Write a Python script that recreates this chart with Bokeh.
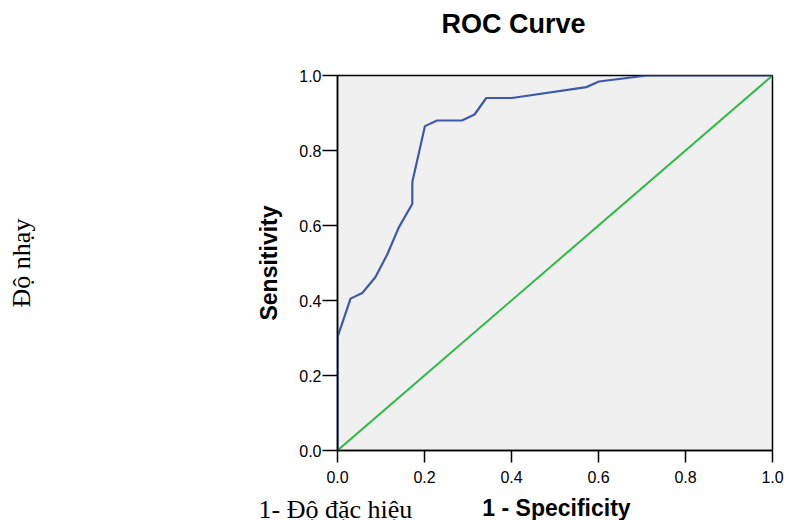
from bokeh.plotting import figure
from bokeh.layouts import column
from bokeh.models import Range1d, FixedTicker, PrintfTickFormatter, Label, LinearAxis
from bokeh.embed import file_html
from bokeh.resources import INLINE

# ROC curve data
fpr = [0.0, 0.0, 0.030, 0.057, 0.087, 0.114, 0.141, 0.172, 0.172, 0.201, 0.229,
       0.286, 0.315, 0.342, 0.401, 0.572, 0.601, 0.712, 1.0]
tpr = [0.0, 0.302, 0.405, 0.420, 0.462, 0.522, 0.595, 0.658, 0.716, 0.865, 0.880,
       0.880, 0.896, 0.940, 0.940, 0.969, 0.984, 1.0, 1.0]
ref_x = [0.0, 1.0]
ref_y = [0.0, 1.0]
ticks = [0.0, 0.2, 0.4, 0.6, 0.8, 1.0]

title_text = "ROC Curve"
xlabel = "1 - Specificity"
ylabel = "Sensitivity"
vn_y = "Độ nhạy"
vn_x = "1- Độ đặc hiệu"

W = 789


def no_align(fig):
    try:
        fig.frame_align = False
    except AttributeError:
        pass


def text_strip(h):
    s = figure(width=W, height=h, output_backend="svg", toolbar_location=None,
               x_range=Range1d(0, W), y_range=Range1d(0, h),
               x_axis_type=None, y_axis_type=None, min_border=0)
    s.outline_line_color = None
    s.xgrid.visible = False
    s.ygrid.visible = False
    s.background_fill_color = "white"
    s.border_fill_color = "white"
    no_align(s)
    return s


# --- title strip ---
top = text_strip(50)
top.add_layout(Label(x=513, y=27, text=title_text, text_align="center",
                     text_baseline="middle", text_font="Liberation Sans",
                     text_font_style="bold", text_font_size="27px",
                     text_color="black"))

# --- main plot ---
p = figure(width=W, height=440, output_backend="svg", toolbar_location=None,
           x_range=Range1d(0, 1), y_range=Range1d(0, 1),
           min_border_left=337, min_border_right=17, min_border_top=25,
           min_border_bottom=40)
no_align(p)

p.background_fill_color = "#f0f0f0"
p.border_fill_color = "white"
p.outline_line_color = "black"
p.outline_line_width = 1.5
p.xgrid.visible = False
p.ygrid.visible = False

for ax in (p.xaxis, p.yaxis):
    ax.ticker = FixedTicker(ticks=ticks)
    ax.formatter = PrintfTickFormatter(format="%.1f")
    ax.axis_line_color = "black"
    ax.axis_line_width = 1.5
    ax.major_tick_line_color = "black"
    ax.major_tick_line_width = 1.5
    ax.major_tick_in = 0
    ax.minor_tick_line_color = None
    ax.major_label_text_font = "Liberation Sans"
    ax.major_label_text_font_size = "16px"
    ax.major_label_text_color = "black"
    ax.axis_label_text_font = "Liberation Sans"
    ax.axis_label_text_font_style = "bold"
    ax.axis_label_text_font_size = "23px"
    ax.axis_label_text_color = "black"

p.xaxis.major_tick_out = 12
p.yaxis.major_tick_out = 15
p.xaxis.major_label_standoff = 8
p.yaxis.major_label_standoff = 1
p.yaxis.axis_label = ylabel
p.yaxis.axis_label_standoff = 14

# Vietnamese y label as an extra, otherwise empty, left axis
vn_axis = LinearAxis(axis_label=vn_y, ticker=FixedTicker(ticks=[]),
                     axis_line_color=None, major_tick_line_color=None,
                     minor_tick_line_color=None, major_label_text_font_size="0px",
                     axis_label_standoff=218,
                     axis_label_text_font="Liberation Serif",
                     axis_label_text_font_style="normal",
                     axis_label_text_font_size="26px",
                     axis_label_text_color="black")
p.add_layout(vn_axis, "left")

p.line(ref_x, ref_y, line_color="#2fba45", line_width=2)
p.line(fpr, tpr, line_color="#3d58ad", line_width=2.2)

# --- bottom strip with both x-axis titles ---
bot = text_strip(30)
bot.add_layout(Label(x=556, y=13, text=xlabel, text_align="center",
                     text_baseline="alphabetic", text_font="Liberation Sans",
                     text_font_style="bold", text_font_size="23px",
                     text_color="black"))
bot.add_layout(Label(x=258, y=11, text=vn_x, text_align="left",
                     text_baseline="alphabetic", text_font="Liberation Serif",
                     text_font_size="26px", text_color="black"))

layout = column(top, p, bot, spacing=0)
open("out.html", "w").write(file_html(layout, INLINE))
